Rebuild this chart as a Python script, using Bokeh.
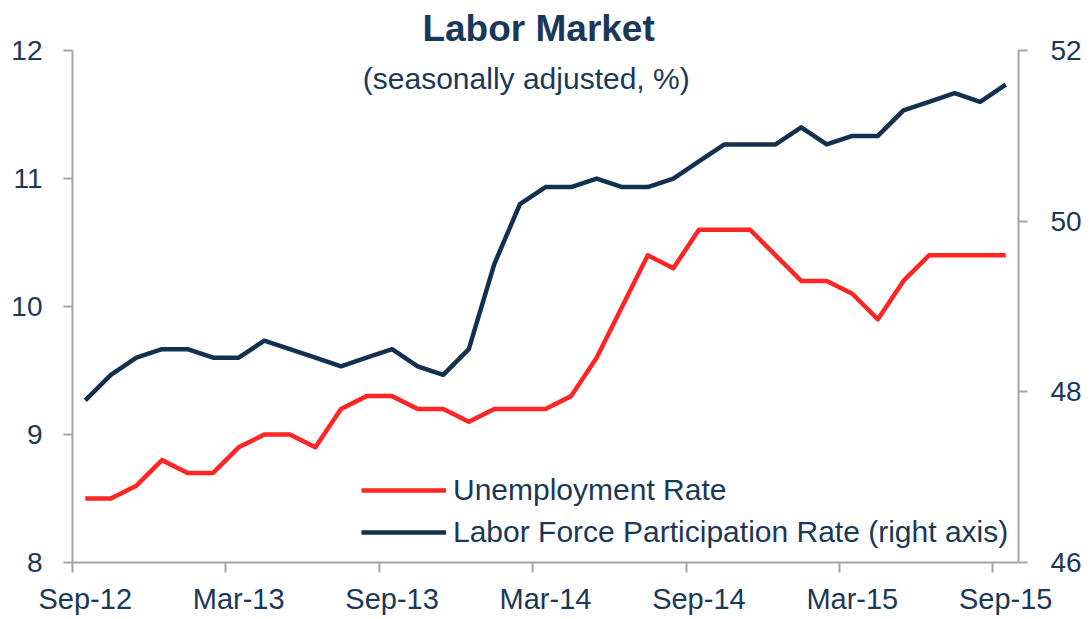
from bokeh.plotting import figure
from bokeh.models import Range1d, LinearAxis, FixedTicker, Label, Legend, LegendItem, Grid
from bokeh.embed import file_html
from bokeh.resources import INLINE

# ---------------- data ----------------
months = ["Sep-12", "Oct-12", "Nov-12", "Dec-12", "Jan-13", "Feb-13", "Mar-13", "Apr-13",
          "May-13", "Jun-13", "Jul-13", "Aug-13", "Sep-13", "Oct-13", "Nov-13", "Dec-13",
          "Jan-14", "Feb-14", "Mar-14", "Apr-14", "May-14", "Jun-14", "Jul-14", "Aug-14",
          "Sep-14", "Oct-14", "Nov-14", "Dec-14", "Jan-15", "Feb-15", "Mar-15", "Apr-15",
          "May-15", "Jun-15", "Jul-15", "Aug-15", "Sep-15"]
unemployment = [8.5, 8.5, 8.6, 8.8, 8.7, 8.7, 8.9, 9.0, 9.0, 8.9, 9.2, 9.3, 9.3, 9.2, 9.2, 9.1,
                9.2, 9.2, 9.2, 9.3, 9.6, 10.0, 10.4, 10.3, 10.6, 10.6, 10.6, 10.4, 10.2, 10.2,
                10.1, 9.9, 10.2, 10.4, 10.4, 10.4, 10.4]
participation = [47.9, 48.2, 48.4, 48.5, 48.5, 48.4, 48.4, 48.6, 48.5, 48.4, 48.3, 48.4, 48.5,
                 48.3, 48.2, 48.5, 49.5, 50.2, 50.4, 50.4, 50.5, 50.4, 50.4, 50.5, 50.7, 50.9,
                 50.9, 50.9, 51.1, 50.9, 51.0, 51.0, 51.3, 51.4, 51.5, 51.4, 51.6]
left_ticks = [8, 9, 10, 11, 12]
right_ticks = [46, 48, 50, 52]
label_every = 6
title_text = "Labor Market"
subtitle_text = "(seasonally  adjusted, %)"
series_names = ["Unemployment Rate", "Labor Force Participation Rate (right axis)"]

# ---------------- style ----------------
RED = "#FF2525"
NAVY = "#12304F"
TEXT = "#1A3858"
AXIS = "#A6A6A6"
FONT = "Liberation Sans"

n = len(months)
x = [i + 0.5 for i in range(n)]  # category centres

# headroom above the axes' top tick (in left-axis units) for the title block
head = 0.36
left_lo, left_hi = left_ticks[0], left_ticks[-1]
right_lo, right_hi = right_ticks[0], right_ticks[-1]
ratio = (right_hi - right_lo) / (left_hi - left_lo)

p = figure(width=1091, height=619, output_backend="svg", toolbar_location=None,
           x_range=Range1d(0, n), y_range=Range1d(left_lo, left_hi + head),
           x_axis_location=None, y_axis_location=None,
           min_border_left=72, min_border_right=73, min_border_top=4, min_border_bottom=57)
p.extra_y_ranges = {"lfp": Range1d(right_lo, right_hi + head * ratio)}
p.outline_line_color = None
p.background_fill_color = "white"
p.border_fill_color = "white"
for r in list(p.center):
    if isinstance(r, Grid):
        r.visible = False


def style_axis(ax, font_size):
    ax.axis_line_color = AXIS
    ax.axis_line_width = 2
    ax.major_tick_line_color = AXIS
    ax.major_tick_line_width = 2
    ax.minor_tick_line_color = None
    ax.major_tick_in = 0
    ax.major_tick_out = 9
    ax.major_label_text_font = FONT
    ax.major_label_text_font_size = font_size
    ax.major_label_text_color = TEXT


left = LinearAxis(ticker=FixedTicker(ticks=left_ticks), bounds=(left_lo, left_hi))
style_axis(left, "28px")
left.major_label_standoff = 21
p.add_layout(left, "left")

right = LinearAxis(y_range_name="lfp", ticker=FixedTicker(ticks=right_ticks), bounds=(right_lo, right_hi))
style_axis(right, "28px")
right.major_label_standoff = 23
p.add_layout(right, "right")

# bottom axis: tick marks at category boundaries (no labels)
bound_ticks = list(range(0, n, label_every))
xticks_axis = LinearAxis(ticker=FixedTicker(ticks=bound_ticks))
style_axis(xticks_axis, "29px")
xticks_axis.major_tick_out = 10
xticks_axis.major_label_standoff = 0
xticks_axis.major_label_text_color = None
p.add_layout(xticks_axis, "below")

# bottom labels at category centres
label_pos = [i + 0.5 for i in bound_ticks]
xlabel_axis = LinearAxis(ticker=FixedTicker(ticks=label_pos),
                         major_label_overrides={pos: months[i] for pos, i in zip(label_pos, bound_ticks)})
style_axis(xlabel_axis, "29px")
xlabel_axis.axis_line_color = None
xlabel_axis.major_tick_line_color = None
xlabel_axis.major_tick_out = 0
xlabel_axis.major_label_standoff = 10
p.add_layout(xlabel_axis, "below")

r1 = p.line(x, unemployment, line_color=RED, line_width=4.5, line_join="round")
r2 = p.line(x, participation, y_range_name="lfp", line_color=NAVY, line_width=4.5, line_join="round")

legend = Legend(items=[LegendItem(label=series_names[0], renderers=[r1]),
                       LegendItem(label=series_names[1], renderers=[r2])],
                location=(289, 13), orientation="vertical",
                background_fill_alpha=0, border_line_color=None,
                padding=0, margin=0, spacing=8,
                glyph_width=85, glyph_height=34, label_height=34, label_standoff=7,
                label_text_font=FONT, label_text_font_size="30px", label_text_color=TEXT)
p.add_layout(legend)

p.add_layout(Label(x=18.23, y=12.172, text=title_text, text_align="center", text_baseline="middle",
                   text_font=FONT, text_font_size="37px", text_font_style="bold", text_color=TEXT))
p.add_layout(Label(x=17.91, y=11.78, text=subtitle_text, text_align="center", text_baseline="middle",
                   text_font=FONT, text_font_size="30px", text_color=TEXT))

open("out.html", "w").write(file_html(p, INLINE))
